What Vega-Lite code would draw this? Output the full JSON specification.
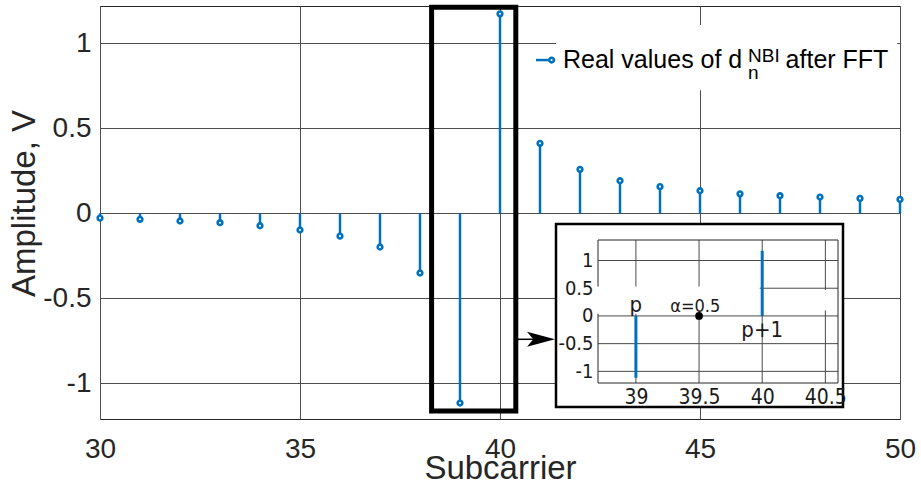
{
  "$schema": "https://vega.github.io/schema/vega-lite/v6.json",
  "width": 800,
  "height": 413,
  "autosize": {"type": "none"},
  "padding": {"left": 100, "top": 6, "right": 21, "bottom": 70},
  "background": "white",
  "config": {
    "font": "Liberation Sans, Arial, Helvetica, sans-serif",
    "view": {"stroke": "#262626", "strokeWidth": 1},
    "locale": {"number": {"decimal": ".", "thousands": ",", "grouping": [3], "currency": ["$", ""], "minus": "-"}}
  },
  "datasets": {
    "stems": [
      {"sc": 30, "amp": -0.028},
      {"sc": 31, "amp": -0.035},
      {"sc": 32, "amp": -0.045},
      {"sc": 33, "amp": -0.055},
      {"sc": 34, "amp": -0.073},
      {"sc": 35, "amp": -0.098},
      {"sc": 36, "amp": -0.134},
      {"sc": 37, "amp": -0.198},
      {"sc": 38, "amp": -0.351},
      {"sc": 39, "amp": -1.116},
      {"sc": 40, "amp": 1.174},
      {"sc": 41, "amp": 0.412},
      {"sc": 42, "amp": 0.259},
      {"sc": 43, "amp": 0.192},
      {"sc": 44, "amp": 0.157},
      {"sc": 45, "amp": 0.133},
      {"sc": 46, "amp": 0.115},
      {"sc": 47, "amp": 0.104},
      {"sc": 48, "amp": 0.096},
      {"sc": 49, "amp": 0.088},
      {"sc": 50, "amp": 0.082}
    ],
    "insetGridX": [{"g": 39}, {"g": 39.5}, {"g": 40}, {"g": 40.5}],
    "insetGridY": [{"g": -1}, {"g": -0.5}, {"g": 0}, {"g": 0.5}, {"g": 1}]
  },
  "layer": [
    {
      "data": {"name": "stems"},
      "mark": {"type": "rule", "color": "#0072BD", "strokeWidth": 2.5},
      "encoding": {
        "x": {
          "field": "sc", "type": "quantitative",
          "scale": {"domain": [30, 50], "range": [0, 800], "nice": false, "zero": false},
          "axis": {
            "values": [30, 35, 40, 45, 50], "format": "~g",
            "grid": true, "gridColor": "#4d4d4d", "gridWidth": 1,
            "ticks": false, "domain": false,
            "labelFontSize": 28, "labelColor": "#262626", "labelPadding": 16, "labelFlush": false,
            "title": "Subcarrier", "titleFontSize": 33, "titleFontWeight": "normal", "titleColor": "#262626",
            "titleY": 59, "titleBaseline": "alphabetic", "zindex": 0
          }
        },
        "y": {
          "field": "amp", "type": "quantitative",
          "scale": {"domain": [-1.21, 1.22], "range": [413, 0], "nice": false, "zero": false},
          "axis": {
            "values": [-1, -0.5, 0, 0.5, 1], "format": "~g",
            "grid": true, "gridColor": "#4d4d4d", "gridWidth": 1,
            "ticks": false, "domain": false,
            "labelFontSize": 28, "labelColor": "#262626", "labelPadding": 9,
            "title": "Amplitude, V", "titleFontSize": 33, "titleFontWeight": "normal", "titleColor": "#262626",
            "titleX": -66, "titleY": 197, "titleAlign": "center", "titleBaseline": "alphabetic", "titleAngle": -90,
            "zindex": 0
          }
        },
        "y2": {"datum": 0}
      }
    },
    {
      "data": {"name": "stems"},
      "mark": {"type": "point", "shape": "circle", "size": 22, "filled": true, "fill": "white", "stroke": "#0072BD", "strokeWidth": 2.6, "opacity": 1},
      "encoding": {
        "x": {"field": "sc", "type": "quantitative", "axis": null,
              "scale": {"domain": [30, 50], "range": [0, 800], "nice": false, "zero": false}},
        "y": {"field": "amp", "type": "quantitative", "axis": null,
              "scale": {"domain": [-1.21, 1.22], "range": [413, 0], "nice": false, "zero": false}}
      }
    },
    {
      "data": {"values": [{}]},
      "mark": {"type": "rect", "filled": false, "color": "black", "strokeWidth": 5},
      "encoding": {
        "x": {"datum": 38.29, "axis": null, "scale": {"domain": [30, 50], "range": [0, 800], "nice": false, "zero": false}},
        "x2": {"datum": 40.395},
        "y": {"datum": 1.213, "axis": null, "scale": {"domain": [-1.21, 1.22], "range": [413, 0], "nice": false, "zero": false}},
        "y2": {"datum": -1.163}
      }
    },
    {
      "data": {"values": [{}]},
      "mark": {"type": "rect", "fill": "white", "stroke": "black", "strokeWidth": 2.5},
      "encoding": {
        "x": {"datum": 41.4, "axis": null, "scale": {"domain": [30, 50], "range": [0, 800], "nice": false, "zero": false}},
        "x2": {"datum": 48.575},
        "y": {"datum": -0.063, "axis": null, "scale": {"domain": [-1.21, 1.22], "range": [413, 0], "nice": false, "zero": false}},
        "y2": {"datum": -1.139}
      }
    },
    {
      "data": {"values": [{}]},
      "mark": {"type": "rect", "fill": "white", "strokeWidth": 0},
      "encoding": {
        "x": {"datum": 41.4, "axis": null, "scale": {"domain": [30, 50], "range": [0, 800], "nice": false, "zero": false}},
        "x2": {"datum": 49.93},
        "y": {"datum": 1.108, "axis": null, "scale": {"domain": [-1.21, 1.22], "range": [413, 0], "nice": false, "zero": false}},
        "y2": {"datum": 0.725}
      }
    },
    {
      "data": {"values": [{}]},
      "mark": {"type": "rule", "color": "#0072BD", "strokeWidth": 2.5},
      "encoding": {
        "x": {"datum": 40.9, "axis": null, "scale": {"domain": [30, 50], "range": [0, 800], "nice": false, "zero": false}},
        "x2": {"datum": 41.375},
        "y": {"datum": 0.902, "axis": null, "scale": {"domain": [-1.21, 1.22], "range": [413, 0], "nice": false, "zero": false}}
      }
    },
    {
      "data": {"values": [{}]},
      "mark": {"type": "point", "shape": "circle", "size": 22, "filled": true, "fill": "white", "stroke": "#0072BD", "strokeWidth": 2.6, "opacity": 1},
      "encoding": {
        "x": {"datum": 41.29, "axis": null, "scale": {"domain": [30, 50], "range": [0, 800], "nice": false, "zero": false}},
        "y": {"datum": 0.902, "axis": null, "scale": {"domain": [-1.21, 1.22], "range": [413, 0], "nice": false, "zero": false}}
      }
    },
    {
      "data": {"values": [{}]},
      "mark": {"type": "text", "text": "Real values of d", "align": "left", "baseline": "alphabetic", "fontSize": 25, "color": "black"},
      "encoding": {
        "x": {"datum": 41.575, "axis": null, "scale": {"domain": [30, 50], "range": [0, 800], "nice": false, "zero": false}},
        "y": {"datum": 0.856, "axis": null, "scale": {"domain": [-1.21, 1.22], "range": [413, 0], "nice": false, "zero": false}}
      }
    },
    {
      "data": {"values": [{}]},
      "mark": {"type": "text", "text": "NBI", "align": "left", "baseline": "alphabetic", "fontSize": 19, "color": "black"},
      "encoding": {
        "x": {"datum": 46.2, "axis": null, "scale": {"domain": [30, 50], "range": [0, 800], "nice": false, "zero": false}},
        "y": {"datum": 0.89, "axis": null, "scale": {"domain": [-1.21, 1.22], "range": [413, 0], "nice": false, "zero": false}}
      }
    },
    {
      "data": {"values": [{}]},
      "mark": {"type": "text", "text": "n", "align": "left", "baseline": "alphabetic", "fontSize": 19, "color": "black"},
      "encoding": {
        "x": {"datum": 46.2, "axis": null, "scale": {"domain": [30, 50], "range": [0, 800], "nice": false, "zero": false}},
        "y": {"datum": 0.79, "axis": null, "scale": {"domain": [-1.21, 1.22], "range": [413, 0], "nice": false, "zero": false}}
      }
    },
    {
      "data": {"values": [{}]},
      "mark": {"type": "text", "text": "after FFT", "align": "left", "baseline": "alphabetic", "fontSize": 25, "color": "black"},
      "encoding": {
        "x": {"datum": 47.14, "axis": null, "scale": {"domain": [30, 50], "range": [0, 800], "nice": false, "zero": false}},
        "y": {"datum": 0.856, "axis": null, "scale": {"domain": [-1.21, 1.22], "range": [413, 0], "nice": false, "zero": false}}
      }
    },
    {
      "data": {"values": [{}]},
      "mark": {"type": "rule", "color": "black", "strokeWidth": 1.5},
      "encoding": {
        "x": {"datum": 40.42, "axis": null, "scale": {"domain": [30, 50], "range": [0, 800], "nice": false, "zero": false}},
        "x2": {"datum": 41.0},
        "y": {"datum": -0.741, "axis": null, "scale": {"domain": [-1.21, 1.22], "range": [413, 0], "nice": false, "zero": false}}
      }
    },
    {
      "data": {"values": [{}]},
      "mark": {"type": "point", "shape": "M-1,-0.54L1,0L-1,0.54L-0.55,0Z", "size": 784, "filled": true, "color": "black", "strokeWidth": 0, "opacity": 1},
      "encoding": {
        "x": {"datum": 41.025, "axis": null, "scale": {"domain": [30, 50], "range": [0, 800], "nice": false, "zero": false}},
        "y": {"datum": -0.741, "axis": null, "scale": {"domain": [-1.21, 1.22], "range": [413, 0], "nice": false, "zero": false}}
      }
    },
    {
      "data": {"name": "insetGridX"},
      "mark": {"type": "rule", "color": "#4a4a4a", "strokeWidth": 1},
      "encoding": {
        "x": {"field": "g", "type": "quantitative", "axis": null,
              "scale": {"domain": [38.7, 40.6], "range": [498, 738], "nice": false, "zero": false}},
        "y": {"datum": -1.21, "axis": null,
              "scale": {"domain": [-1.21, 1.37], "range": [377, 234], "nice": false, "zero": false}},
        "y2": {"datum": 1.37}
      }
    },
    {
      "data": {"name": "insetGridY"},
      "mark": {"type": "rule", "color": "#4a4a4a", "strokeWidth": 1},
      "encoding": {
        "y": {"field": "g", "type": "quantitative", "axis": null,
              "scale": {"domain": [-1.21, 1.37], "range": [377, 234], "nice": false, "zero": false}},
        "x": {"datum": 38.7, "axis": null,
              "scale": {"domain": [38.7, 40.6], "range": [498, 738], "nice": false, "zero": false}},
        "x2": {"datum": 40.6}
      }
    },
    {
      "data": {"values": [{}]},
      "mark": {"type": "rect", "filled": false, "color": "#262626", "strokeWidth": 1},
      "encoding": {
        "x": {"datum": 38.7, "axis": null, "scale": {"domain": [38.7, 40.6], "range": [498, 738], "nice": false, "zero": false}},
        "x2": {"datum": 40.6},
        "y": {"datum": -1.21, "axis": null, "scale": {"domain": [-1.21, 1.37], "range": [377, 234], "nice": false, "zero": false}},
        "y2": {"datum": 1.37}
      }
    },
    {
      "data": {"values": [{}]},
      "mark": {"type": "rect", "fill": "white", "strokeWidth": 0},
      "encoding": {
        "x": {"datum": 38.68, "axis": null, "scale": {"domain": [38.7, 40.6], "range": [498, 738], "nice": false, "zero": false}},
        "x2": {"datum": 39.98},
        "y": {"datum": 0.04, "axis": null, "scale": {"domain": [-1.21, 1.37], "range": [377, 234], "nice": false, "zero": false}},
        "y2": {"datum": 0.53}
      }
    },
    {
      "data": {"values": [{}]},
      "mark": {"type": "rect", "fill": "white", "strokeWidth": 0},
      "encoding": {
        "x": {"datum": 40.43, "axis": null, "scale": {"domain": [38.7, 40.6], "range": [498, 738], "nice": false, "zero": false}},
        "x2": {"datum": 40.58},
        "y": {"datum": 0.1, "axis": null, "scale": {"domain": [-1.21, 1.37], "range": [377, 234], "nice": false, "zero": false}},
        "y2": {"datum": 0.47}
      }
    },
    {
      "data": {"name": "stems"},
      "transform": [{"filter": "datum.sc >= 39 && datum.sc <= 40"}],
      "mark": {"type": "rule", "color": "#0072BD", "strokeWidth": 3},
      "encoding": {
        "x": {
          "field": "sc", "type": "quantitative",
          "scale": {"domain": [38.7, 40.6], "range": [498, 738], "nice": false, "zero": false},
          "axis": {
            "orient": "bottom", "offset": -36, "values": [39, 39.5, 40, 40.5], "format": "~g",
            "grid": false, "ticks": false, "domain": false, "title": null,
            "labelFont": "DejaVu Sans Condensed, Liberation Sans Narrow, DejaVu Sans, sans-serif",
            "labelFontSize": 21, "labelColor": "#1a1a1a", "labelPadding": 3, "labelFlush": false,
            "zindex": 1
          }
        },
        "y": {
          "field": "amp", "type": "quantitative",
          "scale": {"domain": [-1.21, 1.37], "range": [377, 234], "nice": false, "zero": false},
          "axis": {
            "orient": "left", "offset": -498, "values": [-1, -0.5, 0, 0.5, 1], "format": "~g",
            "grid": false, "ticks": false, "domain": false, "title": null,
            "labelFont": "DejaVu Sans Condensed, Liberation Sans Narrow, DejaVu Sans, sans-serif",
            "labelFontSize": 20, "labelColor": "#1a1a1a", "labelPadding": 5,
            "zindex": 1
          }
        },
        "y2": {"datum": 0}
      }
    },
    {
      "data": {"values": [{}]},
      "mark": {"type": "point", "shape": "circle", "size": 60, "filled": true, "color": "black", "opacity": 1},
      "encoding": {
        "x": {"datum": 39.5, "axis": null, "scale": {"domain": [38.7, 40.6], "range": [498, 738], "nice": false, "zero": false}},
        "y": {"datum": 0, "axis": null, "scale": {"domain": [-1.21, 1.37], "range": [377, 234], "nice": false, "zero": false}}
      }
    },
    {
      "data": {"values": [{}]},
      "mark": {"type": "text", "text": "p", "align": "center", "baseline": "alphabetic", "fontSize": 22, "color": "#1a1a1a",
               "font": "DejaVu Sans Condensed, Liberation Sans Narrow, DejaVu Sans, sans-serif"},
      "encoding": {
        "x": {"datum": 39.0, "axis": null, "scale": {"domain": [38.7, 40.6], "range": [498, 738], "nice": false, "zero": false}},
        "y": {"datum": 0.07, "axis": null, "scale": {"domain": [-1.21, 1.37], "range": [377, 234], "nice": false, "zero": false}}
      }
    },
    {
      "data": {"values": [{}]},
      "mark": {"type": "text", "text": "α=0.5", "align": "center", "baseline": "alphabetic", "fontSize": 18, "color": "#1a1a1a",
               "font": "DejaVu Sans Condensed, Liberation Sans Narrow, DejaVu Sans, sans-serif"},
      "encoding": {
        "x": {"datum": 39.47, "axis": null, "scale": {"domain": [38.7, 40.6], "range": [498, 738], "nice": false, "zero": false}},
        "y": {"datum": 0.07, "axis": null, "scale": {"domain": [-1.21, 1.37], "range": [377, 234], "nice": false, "zero": false}}
      }
    },
    {
      "data": {"values": [{}]},
      "mark": {"type": "text", "text": "p+1", "align": "center", "baseline": "alphabetic", "fontSize": 22, "color": "#1a1a1a",
               "font": "DejaVu Sans Condensed, Liberation Sans Narrow, DejaVu Sans, sans-serif"},
      "encoding": {
        "x": {"datum": 40.0, "axis": null, "scale": {"domain": [38.7, 40.6], "range": [498, 738], "nice": false, "zero": false}},
        "y": {"datum": -0.38, "axis": null, "scale": {"domain": [-1.21, 1.37], "range": [377, 234], "nice": false, "zero": false}}
      }
    }
  ],
  "resolve": {"scale": {"x": "independent", "y": "independent"}}
}
